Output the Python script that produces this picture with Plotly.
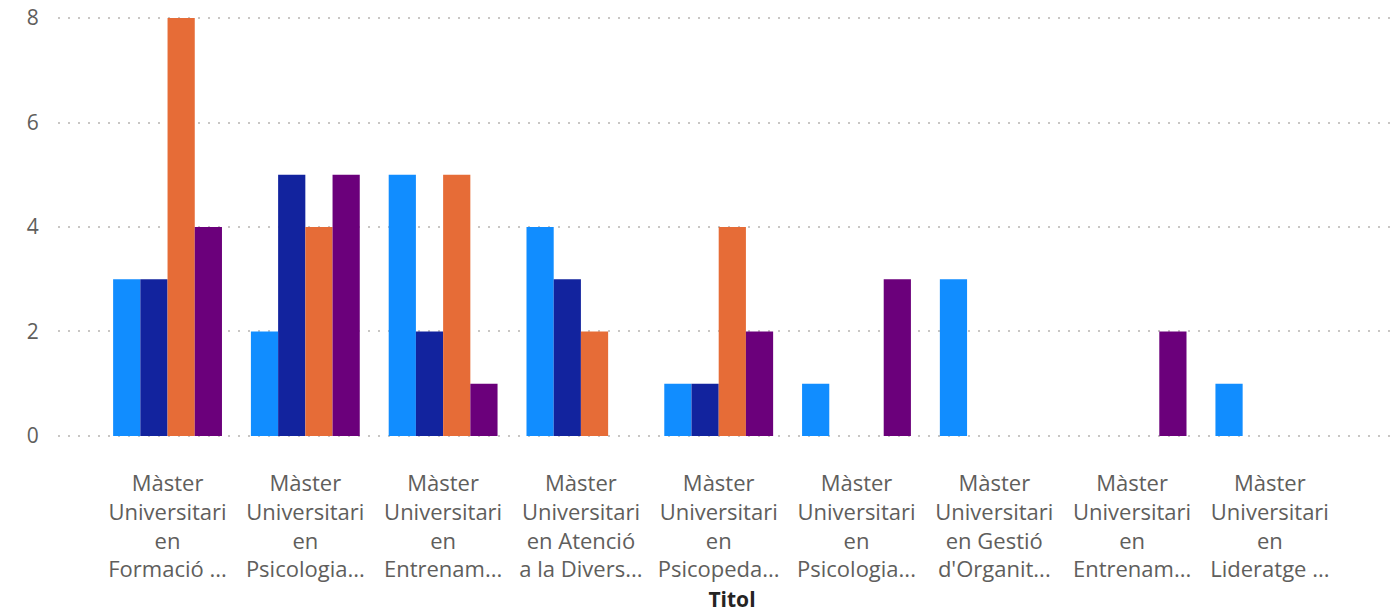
import plotly.graph_objects as go

categories = [
    "Màster<br>Universitari<br>en<br>Formació ...",
    "Màster<br>Universitari<br>en<br>Psicologia...",
    "Màster<br>Universitari<br>en<br>Entrenam...",
    "Màster<br>Universitari<br>en Atenció<br>a la Divers...",
    "Màster<br>Universitari<br>en<br>Psicopeda...",
    "Màster<br>Universitari<br>en<br>Psicologia...",
    "Màster<br>Universitari<br>en Gestió<br>d'Organit...",
    "Màster<br>Universitari<br>en<br>Entrenam...",
    "Màster<br>Universitari<br>en<br>Lideratge ...",
]
serie_1 = [3, 2, 5, 4, 1, 1, 3, 0, 1]
serie_2 = [3, 5, 2, 3, 1, 0, 0, 0, 0]
serie_3 = [8, 4, 5, 2, 4, 0, 0, 0, 0]
serie_4 = [4, 5, 1, 0, 2, 3, 0, 2, 0]

colors = ["#118DFF", "#12239E", "#E66C37", "#6B007B"]
series = [serie_1, serie_2, serie_3, serie_4]

x = list(range(len(categories)))
fig = go.Figure()
for vals, col in zip(series, colors):
    fig.add_trace(go.Bar(x=x, y=vals, marker_color=col, marker_line_width=0))

fig.update_layout(
    width=1398, height=613,
    barmode="group", bargap=0.21, bargroupgap=0,
    showlegend=False,
    plot_bgcolor="white", paper_bgcolor="white",
    margin=dict(l=50, r=0, t=8, b=183, autoexpand=False),
    font=dict(family="Segoe UI, Open Sans", color="#605E5C"),
)
fig.update_xaxes(
    tickmode="array", tickvals=x, ticktext=categories,
    range=[-0.795, 8.988], automargin=False,
    tickfont=dict(size=22, color="#605E5C"),
    ticks="outside", ticklen=26, tickcolor="rgba(0,0,0,0)",
    showgrid=False, zeroline=False, showline=False,
    title=dict(text="<b>Titol</b>", font=dict(size=21, color="#252423"), standoff=10),
)
fig.update_yaxes(
    range=[-0.04, 8.04], tickvals=[0, 2, 4, 6, 8], automargin=False,
    tickfont=dict(size=21, color="#605E5C"), ticklabeloverflow="allow",
    showgrid=True, gridcolor="#C8C6C4", griddash="2px,8px", gridwidth=1.5,
    zeroline=False, showline=False,
    ticks="outside", ticklen=14, tickcolor="rgba(0,0,0,0)",
)

fig.write_html("out.html")
